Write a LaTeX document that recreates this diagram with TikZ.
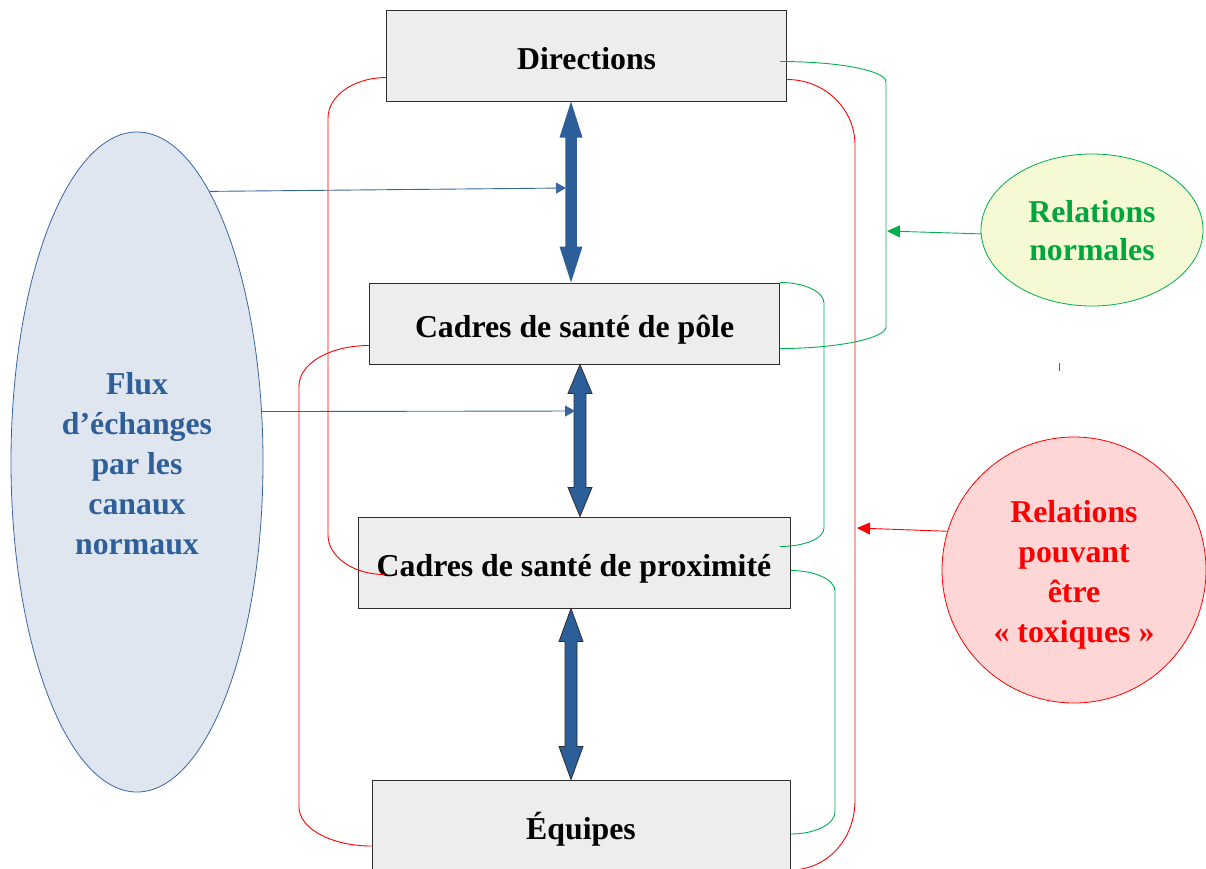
\documentclass[tikz,border=0pt]{standalone}
\usepackage{fontspec}
\setmainfont{Liberation Serif}
\usetikzlibrary{shapes.geometric,arrows.meta,calc}
\definecolor{boxfill}{HTML}{EDEDED}
\definecolor{boxline}{HTML}{2E2E2E}
\definecolor{arrblue}{HTML}{2C5F9A}
\definecolor{txtblue}{HTML}{2E5F99}
\definecolor{fluxfill}{HTML}{DFE6EF}
\definecolor{fluxline}{HTML}{3A66A0}
\definecolor{gline}{HTML}{00B050}
\definecolor{gtext}{HTML}{00A63C}
\definecolor{normfill}{HTML}{F5F9D4}
\definecolor{toxfill}{HTML}{FFD6D6}
\definecolor{rline}{HTML}{FF0000}
% #1 top point, #2 bottom point, #3 head length, #4 half head width, #5 half shaft width, #6 style
\newcommand\mydblarrow[6]{%
  \path[#6] (#1) -- ($(#1)+(#4,#3)$) -- ($(#1)+(#5,#3)$) -- ($(#2)+(#5,-#3)$)
    -- ($(#2)+(#4,-#3)$) -- (#2) -- ($(#2)+(-#4,-#3)$) -- ($(#2)+(-#5,-#3)$)
    -- ($(#1)+(-#5,#3)$) -- ($(#1)+(-#4,#3)$) -- cycle;}
\begin{document}
\begin{tikzpicture}[x=1pt,y=-1pt,
  bigfont/.style={font=\fontsize{31.8}{40}\selectfont\bfseries},
  box/.style={draw=boxline,line width=1pt,fill=boxfill,inner sep=0pt,bigfont,
    text height=27pt,text depth=0pt},
  bubble/.style={ellipse,inner sep=0pt,line width=0.8pt},
  bubbletext/.style={inner sep=0pt,align=center,bigfont},
  thinblue/.style={draw=fluxline,line width=0.9pt,-{Triangle[length=10pt,width=11pt]}},
  greenarr/.style={draw=gline,line width=0.9pt,-{Triangle[length=13pt,width=12pt]}},
  redarr/.style={draw=rline,line width=0.9pt,-{Triangle[length=13pt,width=12pt]}},
  gl/.style={draw=gline,line width=0.9pt},
  rl/.style={draw=rline,line width=0.9pt}]
\useasboundingbox (0,0) rectangle (1206,868);

% left ellipse
\node[bubble,draw=fluxline,fill=fluxfill,minimum width=252,minimum height=660]
  (flux) at (137,462) {};
\node[bubbletext,text=txtblue] (fluxt) at ($(flux.center)+(0,2)$)
  {Flux\\d’échanges\\par les\\canaux\\normaux};
% right bubbles
\node[bubble,draw=gline,fill=normfill,minimum width=222,minimum height=152]
  (norm) at (1092,230) {};
\node[bubbletext,text=gtext,font=\fontsize{31.8}{38}\selectfont\bfseries]
  (normt) at ($(norm.center)+(0,1)$) {Relations\\normales};
\node[bubble,draw=rline,fill=toxfill,minimum width=264,minimum height=266]
  (tox) at (1074,570) {};
\node[bubbletext,text=rline] (toxt) at ($(tox.center)+(0,5)$)
  {Relations\\pouvant\\être\\« toxiques »};

% boxes
\node[box,minimum width=400,minimum height=91] (dir)  at (586.6,55.5) {Directions};
\node[box,minimum width=410,minimum height=81] (pole) at (574.6,323.5) {Cadres de santé de pôle};
\node[box,minimum width=432,minimum height=91] (prox) at (574,562.5) {Cadres de santé de proximité};
\node[box,minimum width=418,minimum height=92] (equ)  at (581,826) {Équipes};

% thick double arrows
\coordinate (x1) at (571,0);
\coordinate (x2) at (580,0);
\coordinate (x3) at (571,0);
\coordinate (a1t) at (dir.south -| x1);
\coordinate (a1b) at (pole.north -| x1);
\coordinate (a2t) at (pole.south -| x2);
\coordinate (a2b) at (prox.north -| x2);
\coordinate (a3t) at (prox.south -| x3);
\coordinate (a3b) at (equ.north -| x3);
\mydblarrow{a1t}{a1b}{36}{11.5}{5.75}{fill=arrblue}
\mydblarrow{a2t}{a2b}{29}{12}{6}{fill=arrblue,draw=boxline,line width=0.8pt}
\mydblarrow{a3t}{a3b}{33}{12}{6}{fill=arrblue,draw=boxline,line width=0.8pt}

% thin blue arrows from the flux ellipse
\coordinate (b1) at (566,188);
\coordinate (b2) at (575,411);
\draw[thinblue] (flux.75) -- (b1);
\draw[thinblue] (flux.22) -- (b2);

% green relations
\draw[gl] ($(dir.east)+(-7,6)$) .. controls +(58.5,0) and +(0,-11.5) .. (886,82)
  -- (886,327) .. controls +(0,11) and +(58.5,0) .. ($(pole.east)+(0,25)$);
\draw[gl] (pole.north east) .. controls +(25,0) and +(0,-11) .. (824,303)
  -- (824,528) .. controls +(0,10.5) and +(25,0) .. ($(prox.east)+(-11,-16)$);
\draw[gl] ($(prox.east)+(0,8)$) .. controls +(25,0) and +(0,-11) .. (835,591)
  -- (835,812) .. controls +(0,12) and +(25,0) .. ($(equ.east)+(0,8)$);

% red relations
\draw[rl] ($(dir.west)+(0,22)$) .. controls +(-31.5,0) and +(0,-22.6) .. (328,118)
  -- (328,535) .. controls +(0,21.5) and +(-31.5,0) .. ($(prox.west)+(27,12)$);
\draw[rl] ($(dir.east)+(0,24)$) .. controls +(37.5,0) and +(0,-36.4) .. (855,145)
  -- (855,800) .. controls +(0,40) and +(36,0) .. ($(equ.east)+(0,44)$);
\draw[rl] ($(pole.west)+(0,22)$) .. controls +(-39,0) and +(0,-22.6) .. (299,386)
  -- (299,807) .. controls +(0,21.5) and +(-40,0) .. ($(equ.west)+(0,20)$);

% pointers from the legend bubbles
\coordinate (g) at (887,231);
\coordinate (r) at (857,528);
\draw[greenarr] (norm.182) -- (g);
\draw[redarr] (tox.163) -- (r);

% small stray tick
\draw[draw=fluxline,line width=0.8pt] (1059,363) -- (1059,371);
\end{tikzpicture}
\end{document}
